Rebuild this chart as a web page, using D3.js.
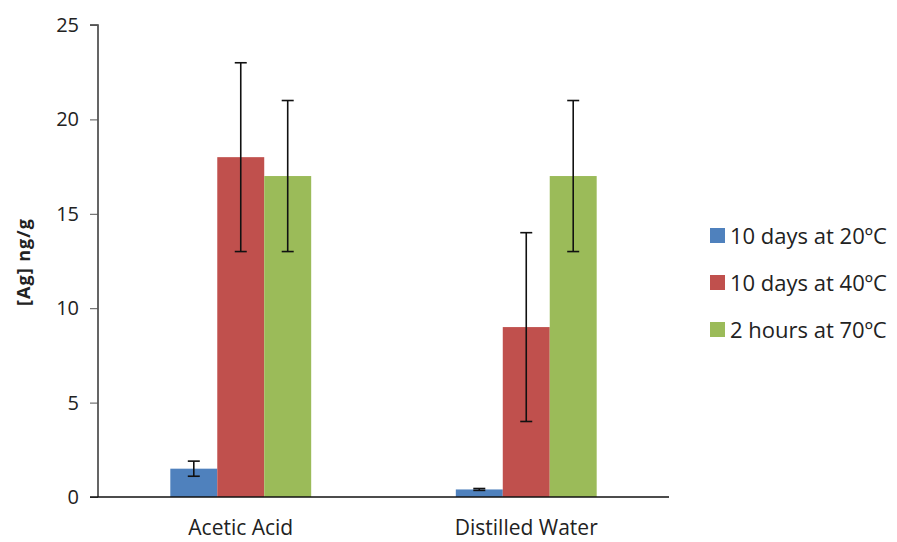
<!DOCTYPE html>
<html><head><meta charset="utf-8">
<script src="https://cdn.jsdelivr.net/npm/d3@7"></script>
<style>body{margin:0;background:#fff;} svg{display:block;} text{font-family:"Open Sans", sans-serif;fill:#222;}</style>
</head><body>
<svg id="c" width="897" height="542"></svg>
<script>
const categories = ["Acetic Acid", "Distilled Water"];
const seriesNames = ["10 days at 20ºC", "10 days at 40ºC", "2 hours at 70ºC"];
const seriesColors = ["#4F81BD", "#C0504D", "#9BBB59"];
const values20 = [1.5, 0.4];
const values40 = [18, 9];
const values70 = [17, 17];
const err20 = [0.4, 0.05];
const err40 = [5, 5];
const err70 = [4, 4];
const yTicks = [0, 5, 10, 15, 20, 25];

const seriesValues = [values20, values40, values70];
const seriesErr = [err20, err40, err70];

const svg = d3.select("#c");
const mLeft = 98, mRight = 669, mTop = 25, mBottom = 497;
const x0 = d3.scaleBand().domain(categories).range([mLeft, mRight]).paddingInner(0).paddingOuter(0);
const x1 = d3.scaleBand().domain(seriesNames).range([0, x0.bandwidth()]).paddingInner(0).paddingOuter(1.54);
const y = d3.scaleLinear().domain([0, 25]).range([mBottom, mTop]);

const data = [];
categories.forEach((c, i) => seriesNames.forEach((s, j) => data.push({c, s, j, v: seriesValues[j][i], e: seriesErr[j][i]})));

svg.append("g").selectAll("rect").data(data).join("rect")
  .attr("x", d => x0(d.c) + x1(d.s))
  .attr("width", x1.bandwidth())
  .attr("y", d => y(d.v))
  .attr("height", d => y(0) - y(d.v))
  .attr("fill", d => seriesColors[d.j]);

// error bars
const eg = svg.append("g").attr("stroke", "#111").attr("stroke-width", 1.6);
data.forEach(d => {
  const cx = x0(d.c) + x1(d.s) + x1.bandwidth() / 2;
  eg.append("line").attr("x1", cx).attr("x2", cx).attr("y1", y(d.v + d.e)).attr("y2", y(d.v - d.e));
  [d.v + d.e, d.v - d.e].forEach(v => eg.append("line").attr("x1", cx - 6).attr("x2", cx + 6).attr("y1", y(v)).attr("y2", y(v)));
});

// y axis
const yAxis = d3.axisLeft(y).tickValues(yTicks).tickSize(8).tickPadding(11).tickFormat(d3.format("d"));
const ya = svg.append("g").attr("transform", `translate(${mLeft},0)`).call(yAxis);
ya.select(".domain").attr("stroke", "#333").attr("stroke-width", 1.5).attr("d", `M-8,${mTop}H0V${mBottom}`);
ya.selectAll(".tick line").attr("stroke", "#555");
ya.selectAll(".tick text").style("font-size", "20px").attr("fill", "#222").style("font-family", "'Open Sans', sans-serif");

// x axis
const xAxis = d3.axisBottom(x0).tickSize(0).tickPadding(23);
const xa = svg.append("g").attr("transform", `translate(0,${mBottom})`).call(xAxis);
xa.select(".domain").attr("stroke", "#111").attr("stroke-width", 1.5).attr("d", `M${mLeft - 8},0H${mRight}`);
xa.selectAll(".tick text").style("font-size", "21px").attr("fill", "#222").style("font-family", "'Open Sans', sans-serif");

// y title
svg.append("text").attr("transform", "translate(30,262) rotate(-90)").attr("text-anchor", "middle")
  .style("font-size", "18px").style("font-weight", "bold").style("letter-spacing", "1px").text("[Ag] ng/g");

// legend
const lg = svg.append("g");
seriesNames.forEach((s, i) => {
  const yy = 236 + i * 47;
  lg.append("rect").attr("x", 710).attr("y", yy - 8).attr("width", 15).attr("height", 15).attr("fill", seriesColors[i]);
  lg.append("text").attr("x", 730).attr("y", yy + 8).style("font-size", "22px").text(s);
});
</script>
</body></html>
